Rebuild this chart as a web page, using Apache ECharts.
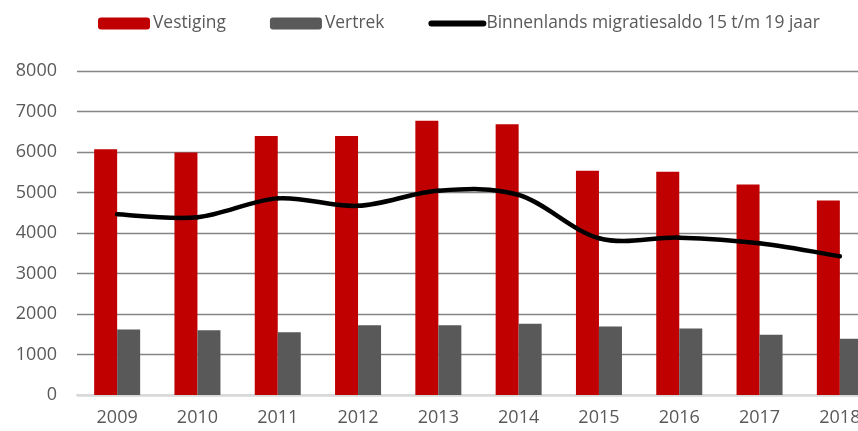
<!DOCTYPE html>
<html>
<head>
<meta charset="utf-8">
<script src="https://cdn.jsdelivr.net/npm/echarts@6/dist/echarts.min.js"></script>
<style>html,body{margin:0;padding:0;background:#fff;overflow:hidden;width:858px;height:431px}#c{width:880px;height:431px}</style>
</head>
<body>
<div id="c"></div>
<script>
const categories = ['2009','2010','2011','2012','2013','2014','2015','2016','2017','2018'];
const vestiging = [6070, 5990, 6395, 6395, 6770, 6685, 5540, 5515, 5195, 4800];
const vertrek = [1620, 1600, 1550, 1720, 1720, 1760, 1690, 1640, 1490, 1390];
const saldo = [4460, 4390, 4855, 4670, 5045, 4940, 3870, 3885, 3745, 3425];
const yTicks = [0, 1000, 2000, 3000, 4000, 5000, 6000, 7000, 8000];

const LINE_NAME = 'Binnenlands migratiesaldo 15 t/m 19 jaar';
const font = 'Open Sans';
const chart = echarts.init(document.getElementById('c'));

function renderSegment(params, api) {
  const i = params.dataIndex;
  const n = saldo.length;
  if (i >= n - 1) return null;
  const P = k => api.coord([Math.max(0, Math.min(n - 1, k)), saldo[Math.max(0, Math.min(n - 1, k))]]);
  const p0 = P(i - 1), p1 = P(i), p2 = P(i + 1), p3 = P(i + 2);
  return {
    type: 'bezierCurve',
    shape: {
      x1: p1[0], y1: p1[1], x2: p2[0], y2: p2[1],
      cpx1: p1[0] + (p2[0] - p0[0]) / 6, cpy1: p1[1] + (p2[1] - p0[1]) / 6,
      cpx2: p2[0] - (p3[0] - p1[0]) / 6, cpy2: p2[1] - (p3[1] - p1[1]) / 6
    },
    style: { stroke: '#000', lineWidth: 4.5, fill: null, lineCap: 'round' }
  };
}

chart.setOption({
  animation: false,
  textStyle: { fontFamily: font },
  legend: {
    left: 93, top: 10,
    itemWidth: 52, itemHeight: 12, itemGap: 44,
    textStyle: { fontFamily: font, fontSize: 17.4, color: '#595959', padding: [0,0,0,-2] },
    data: [
      { name: 'Vestiging' },
      { name: 'Vertrek' },
      { name: LINE_NAME, itemStyle: { opacity: 0 },
        lineStyle: { width: 6, color: '#000', cap: 'round', opacity: 1 } }
    ]
  },
  grid: { left: 77, top: 71, width: 803, height: 324 },
  xAxis: {
    type: 'category', data: categories,
    axisLine: { lineStyle: { color: '#d9d9d9', width: 2 } },
    axisTick: { show: false },
    axisLabel: { fontFamily: font, fontSize: 18, color: '#595959', margin: 14 }
  },
  yAxis: {
    type: 'value', min: yTicks[0], max: yTicks[yTicks.length-1], interval: 1000,
    axisLine: { show: false }, axisTick: { show: false },
    axisLabel: { fontFamily: font, fontSize: 18, color: '#595959', margin: 20, formatter: v => String(v) },
    splitLine: { lineStyle: { color: '#858585', width: 1.3 } }
  },
  series: [
    { name: 'Vestiging', type: 'bar', data: vestiging, barWidth: 23, barGap: '0%',
      itemStyle: { color: '#c00000' } },
    { name: 'Vertrek', type: 'bar', data: vertrek, barWidth: 23,
      itemStyle: { color: '#595959' } },
    { name: LINE_NAME, type: 'line', data: saldo,
      symbol: 'none', lineStyle: { color: '#000', width: 4.5, opacity: 0 },
      itemStyle: { color: '#000' } },
    { name: 'curve', type: 'custom', renderItem: renderSegment,
      data: saldo.map((v, i) => [i, v]), encode: { x: 0, y: 1 }, z: 3 }
  ]
});
</script>
</body>
</html>
